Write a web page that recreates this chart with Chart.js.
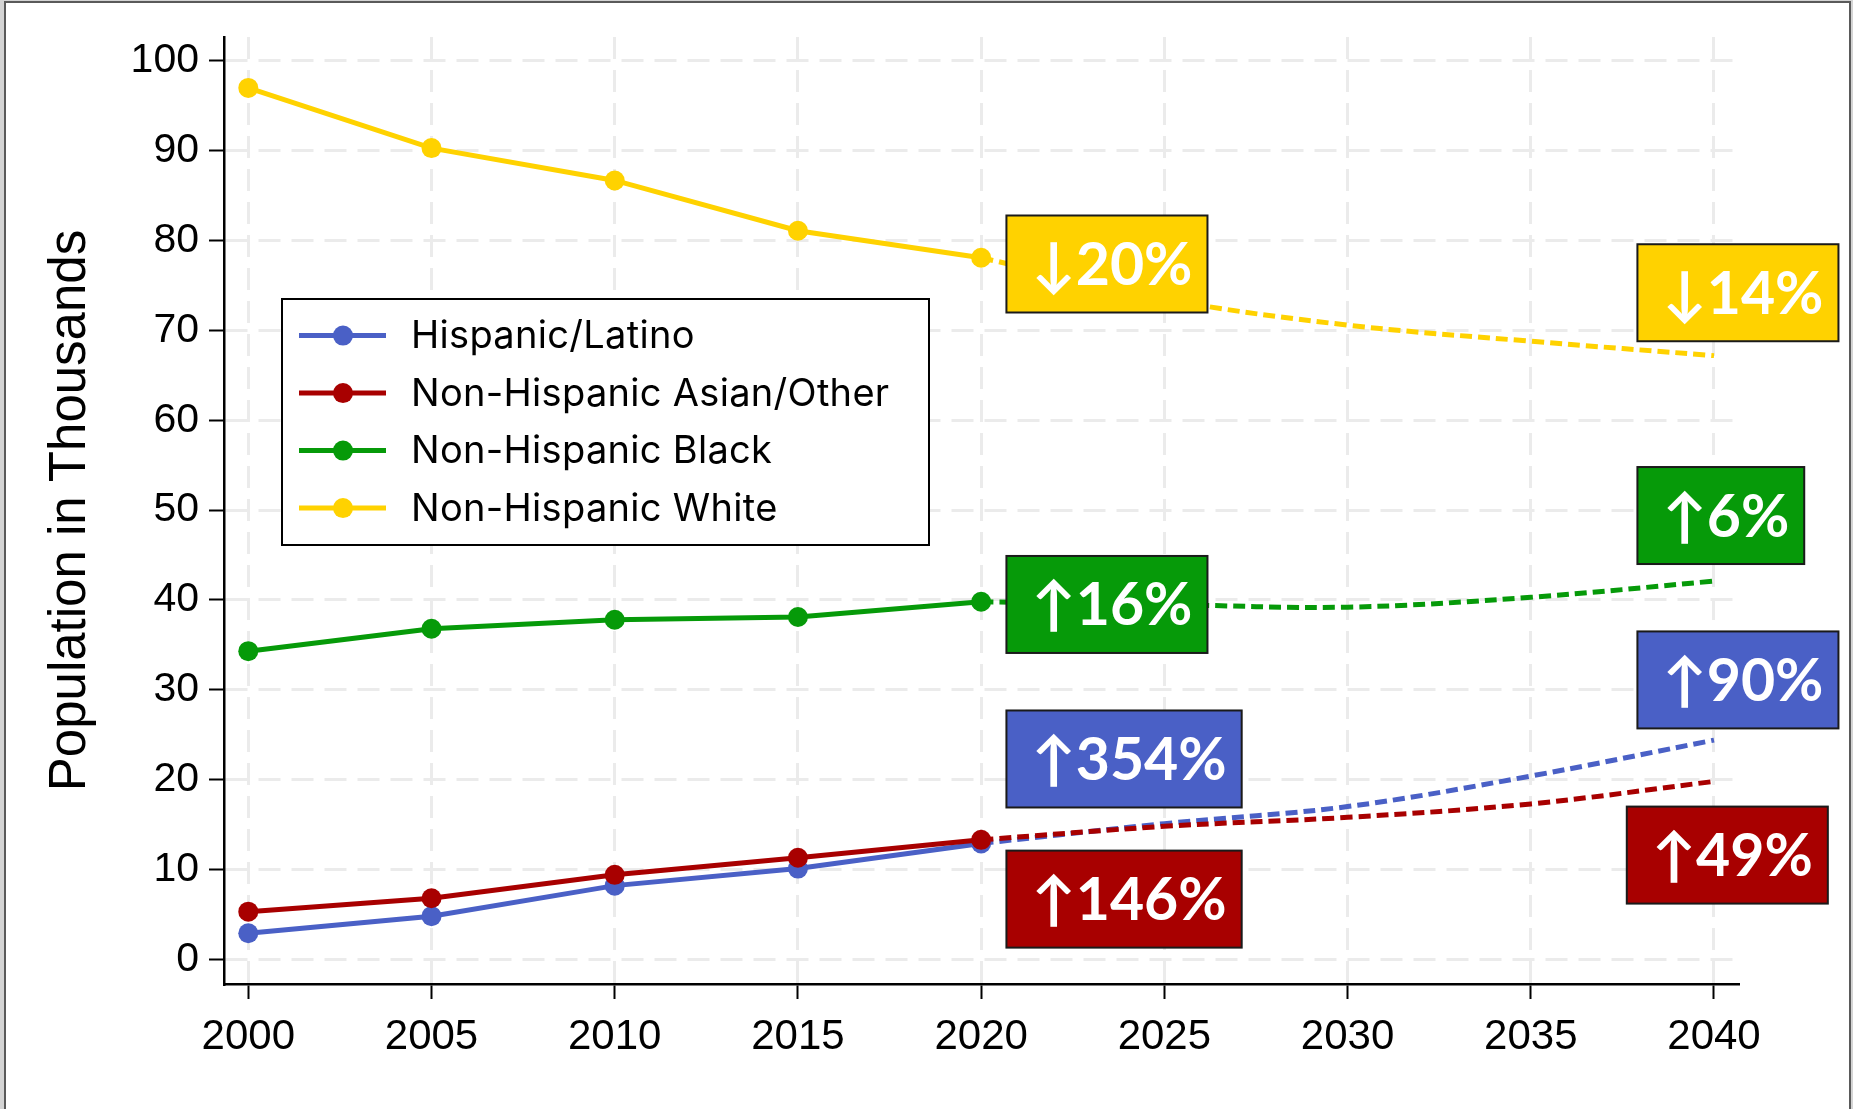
<!DOCTYPE html>
<html><head><meta charset="utf-8">
<script src="https://cdn.jsdelivr.net/npm/chart.js@4.4.1/dist/chart.umd.min.js"></script>
<style>
html,body{margin:0;padding:0;background:#d4d4d4;overflow:hidden;}
#frame{position:absolute;left:4px;top:1px;width:1843px;height:1130px;border:2px solid #5a5a5a;background:#fff;}
#wrap{position:absolute;left:0;top:0;width:1853px;height:1109px;}
</style></head><body>
<div id="frame"></div>
<div id="wrap"><canvas id="c"></canvas></div>
<script>
// ---------- data ----------
const years = [2000, 2005, 2010, 2015, 2020];
const projYears = [2020, 2025, 2030, 2035, 2040];
const seriesNames = ['Hispanic/Latino', 'Non-Hispanic Asian/Other', 'Non-Hispanic Black', 'Non-Hispanic White'];
const hispanic   = [2.9, 4.8, 8.2, 10.1, 12.9];
const asianOther = [5.3, 6.8, 9.4, 11.3, 13.3];
const black      = [34.3, 36.8, 37.8, 38.1, 39.8];
const white      = [97.0, 90.3, 86.7, 81.1, 78.1];
const hispanicProj   = [12.9, 15.1, 17.0, 20.4, 24.4];
const asianOtherProj = [13.3, 14.8, 15.8, 17.3, 19.8];
const blackProj      = [39.8, 39.5, 39.2, 40.3, 42.1];
const whiteProj      = [78.1, 73.5, 70.6, 68.8, 67.2];
const xTickValues = [2000, 2005, 2010, 2015, 2020, 2025, 2030, 2035, 2040];
const yTickValues = [0, 10, 20, 30, 40, 50, 60, 70, 80, 90, 100];
const yAxisTitle = 'Population in Thousands';
// change labels: text, series index, anchor year (box left), anchor value (box centre)
const changeText   = ['↓20%', '↑16%', '↑354%', '↑146%', '↓14%', '↑6%', '↑90%', '↑49%'];
const changeSeries = [3, 2, 0, 1, 3, 2, 0, 1];
const changeYear   = [2020.69, 2020.69, 2020.69, 2020.69, 2037.91, 2037.91, 2037.91, 2037.62];
const changeValue  = [77.4, 39.5, 22.3, 6.7, 74.2, 49.4, 31.1, 11.6];

// ---------- styles ----------
const colors = ['#4a60c6', '#a80000', '#069a09', '#ffd200'];
const histSets = [hispanic, asianOther, black, white];
const projSets = [hispanicProj, asianOtherProj, blackProj, whiteProj];
const drawOrder = [3, 0, 2, 1]; // lower = drawn on top

const datasets = [];
histSets.forEach((vals, i) => {
  datasets.push({
    label: seriesNames[i],
    data: years.map((yr, k) => ({x: yr, y: vals[k]})),
    borderColor: colors[i], backgroundColor: colors[i],
    borderWidth: 5, pointRadius: 10, pointHoverRadius: 10, pointBorderWidth: 0,
    pointBackgroundColor: colors[i], tension: 0, order: drawOrder[i]
  });
});
projSets.forEach((vals, i) => {
  datasets.push({
    label: seriesNames[i] + ' (projection)',
    data: projYears.map((yr, k) => ({x: yr, y: vals[k]})),
    borderColor: colors[i], backgroundColor: colors[i],
    borderWidth: 5, borderDash: [12, 6], pointRadius: 0, pointHoverRadius: 0,
    tension: 0.35, order: drawOrder[i] + 4
  });
});

const overlay = {
  id: 'overlay',
  afterDraw(chart) {
    const {ctx, chartArea, scales: {x, y}} = chart;
    ctx.save();
    // legend
    const lx = chartArea.left + 58, ly = chartArea.top + 262, lw = 647, lh = 246;
    ctx.fillStyle = '#fff';
    ctx.fillRect(lx, ly, lw, lh);
    ctx.lineWidth = 2; ctx.strokeStyle = '#000';
    ctx.strokeRect(lx, ly, lw, lh);
    ctx.font = '38px Inter, "Open Sans", "Liberation Sans", sans-serif';
    if ('letterSpacing' in ctx) ctx.letterSpacing = '0.3px';
    ctx.textBaseline = 'middle'; ctx.textAlign = 'left';
    seriesNames.forEach((name, i) => {
      const cy = ly + 36.6 + i * 57.5;
      ctx.strokeStyle = colors[i]; ctx.lineWidth = 5; ctx.setLineDash([]);
      ctx.beginPath(); ctx.moveTo(lx + 17, cy); ctx.lineTo(lx + 104, cy); ctx.stroke();
      ctx.fillStyle = colors[i];
      ctx.beginPath(); ctx.arc(lx + 61, cy, 10, 0, Math.PI * 2); ctx.fill();
      ctx.fillStyle = '#000';
      ctx.fillText(name, lx + 129, cy + 1);
    });
    if ('letterSpacing' in ctx) ctx.letterSpacing = '0px';
    // change boxes
    ctx.font = 'bold 59px Lato, "Open Sans", "DejaVu Sans", sans-serif';
    changeText.forEach((t, i) => {
      const left = x.getPixelForValue(changeYear[i]);
      const cy = y.getPixelForValue(changeValue[i]);
      const tw = ctx.measureText(t).width;
      const w = tw + 40, h = 97;
      ctx.fillStyle = colors[changeSeries[i]];
      ctx.fillRect(left, cy - h / 2, w, h);
      ctx.lineWidth = 2; ctx.strokeStyle = '#1a1a1a';
      ctx.strokeRect(left, cy - h / 2, w, h);
      ctx.fillStyle = '#fff';
      ctx.fillText(t, left + 25, cy + 2);
    });
    ctx.restore();
  }
};

const gridOpts = {color: '#ebebeb', lineWidth: 3, tickColor: '#000', tickWidth: 2,
                  tickLength: 15, tickBorderDash: []};
const borderOpts = {color: '#000', width: 2.5, dash: [22, 11]};

new Chart(document.getElementById('c'), {
  type: 'line',
  data: {datasets},
  options: {
    responsive: true, maintainAspectRatio: false, animation: false,
    layout: {padding: {left: 0, top: 37, right: 115, bottom: 0}},
    plugins: {legend: {display: false}, tooltip: {enabled: false}},
    scales: {
      x: {
        type: 'linear', min: 1999.337, max: 2040.655,
        afterBuildTicks: s => { s.ticks = xTickValues.map(v => ({value: v})); },
        afterFit: s => { s.height = 125; },
        ticks: {callback: v => String(v), color: '#000', padding: 13,
                font: {family: '"Liberation Sans", Arial, sans-serif', size: 42}, maxRotation: 0, autoSkip: false},
        grid: gridOpts,
        border: borderOpts
      },
      y: {
        type: 'linear', min: -2.75, max: 102.67,
        afterBuildTicks: s => { s.ticks = yTickValues.map(v => ({value: v})); },
        afterFit: s => { s.width = 224; },
        ticks: {color: '#000', padding: 10,
                font: {family: '"Liberation Sans", Arial, sans-serif', size: 41}},
        grid: gridOpts,
        border: borderOpts,
        title: {display: true, text: yAxisTitle, color: '#000', padding: {top: 40, bottom: 0},
                font: {family: '"Liberation Sans", Arial, sans-serif', size: 51}}
      }
    }
  },
  plugins: [overlay]
});
</script>
</body></html>
